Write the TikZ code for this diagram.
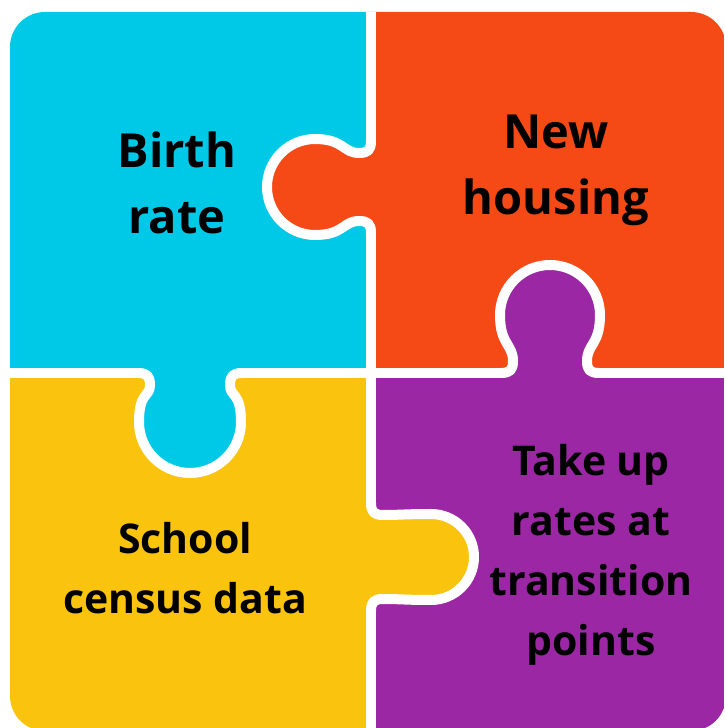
\documentclass[tikz,border=0pt]{standalone}
\usepackage{fontspec}
\setmainfont{Open Sans}
\usetikzlibrary{positioning}

\definecolor{skyblue}{HTML}{00C9E8}
\definecolor{redorange}{HTML}{F64A16}
\definecolor{sunyellow}{HTML}{F9C30E}
\definecolor{plum}{HTML}{9C27A4}

% one puzzle knob, pointing up in its own frame: neck, knob radius, height
\newcommand{\knob}[3]{(-#1-12,0) .. controls (-#1-3,0) and (-#1,3) .. (-#1,12)
  .. controls (-#1,#3*0.5) and (-#2,#3-#2*0.6) .. (-#2,#3)
  arc[start angle=180, end angle=0, radius=#2]
  .. controls (#2,#3-#2*0.6) and (#1,#3*0.5) .. (#1,12)
  .. controls (#1,3) and (#1+3,0) .. (#1+12,0)}

\begin{document}
\begin{tikzpicture}[x=1pt, y=1pt]

\tikzset{cut/.style = {draw=white, line width=10pt, line cap=round, line join=round}}
\tikzset{biglabel/.style = {font=\fontsize{47}{66}\selectfont\bfseries, align=center, text=black}}
\tikzset{smalllabel/.style = {font=\fontsize{41}{60}\selectfont\bfseries, align=center, text=black}}

\useasboundingbox (0,0) rectangle (724,728);
\clip[rounded corners=35] (10,-3) rectangle (726,716);
% pieces
\fill[skyblue] (0,355) rectangle (371,728);
\fill[redorange] (371,355) rectangle (724,728);
\fill[sunyellow] (0,0) rectangle (371,355);
\fill[plum] (371,0) rectangle (724,355);
% knobs
\begin{scope}[shift={(371,541)}, rotate=90]
  \fill[redorange] \knob{34}{48}{56} -- cycle;
  \draw[cut] \knob{34}{48}{56};
  \coordinate (k1a) at (-46,0);
  \coordinate (k1b) at (46,0);
\end{scope}
\begin{scope}[shift={(550,355)}]
  \fill[plum] \knob{37}{50}{58} -- cycle;
  \draw[cut] \knob{37}{50}{58};
  \coordinate (k2a) at (-49,0);
  \coordinate (k2b) at (49,0);
\end{scope}
\begin{scope}[shift={(190,355)}, rotate=180]
  \fill[skyblue] \knob{40}{51}{49} -- cycle;
  \draw[cut] \knob{40}{51}{49};
  \coordinate (k3a) at (-52,0);
  \coordinate (k3b) at (52,0);
\end{scope}
\begin{scope}[shift={(371,171)}, rotate=-90]
  \fill[sunyellow] \knob{42}{43}{60} -- cycle;
  \draw[cut] \knob{42}{43}{60};
  \coordinate (k4a) at (-54,0);
  \coordinate (k4b) at (54,0);
\end{scope}
% cuts
\coordinate (top) at (371,740);
\coordinate (bottom) at (371,-12);
\coordinate (left) at (-12,355);
\coordinate (right) at (736,355);
\coordinate (mid) at (371,355);
\draw[cut] (top) -- (k1b);
\draw[cut] (k1a) -- (mid) -- (k4a);
\draw[cut] (k4b) -- (bottom);
\draw[cut] (left) -- (k3b);
\draw[cut] (k3a) -- (k2a);
\draw[cut] (k2b) -- (right);
% labels
\node[biglabel] (birth) at (177,545) {Birth\\rate};
\node[biglabel] (housing) at (556,558) {New\\housing};
\node[smalllabel] (census) at (185,160) {School\\census data};
\node[smalllabel] (takeup) at (591,173) {Take up\\rates at\\transition\\points};
\end{tikzpicture}
\end{document}
